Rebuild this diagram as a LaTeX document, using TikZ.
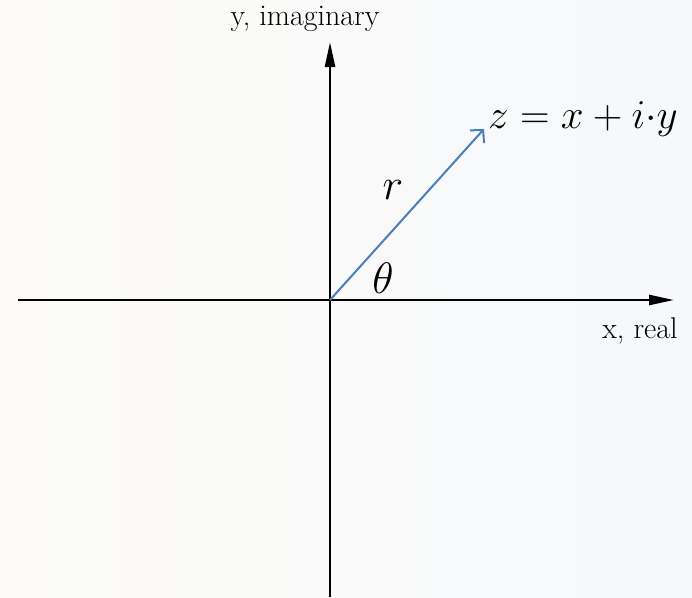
\RequirePackage{fix-cm}
\documentclass[tikz,border=0pt]{standalone}
\usetikzlibrary{arrows.meta}
\definecolor{vecblue}{RGB}{74,126,187}
\definecolor{bgwarm}{RGB}{252,251,247}
\definecolor{bgcool}{RGB}{246,248,251}
\tikzset{
    axis/.style = {line width = 2.6pt, -{Triangle[length = 25pt, width = 10pt]}},
    vec/.style = {vecblue, line width = 2pt, -{Straight Barb[length = 9pt, width = 19pt, line width = 2pt]}},
    axislabel/.style = {font = \fontsize{30}{33}\selectfont, inner sep = 0pt},
    biglabel/.style = {font = \fontsize{44}{48}\selectfont, inner sep = 0pt}
}
\begin{document}
\begin{tikzpicture}[x = 1pt, y = -1pt]
                \shade[left color = bgwarm, right color = bgcool] (0, 0) rectangle (692, 597);
                \useasboundingbox (0, 0) rectangle (692, 597);
                \coordinate (O) at (330, 300);
                \coordinate (xleft) at (18, 300);
                \coordinate (xright) at (674, 300);
                \coordinate (ybottom) at (330, 597);
                \coordinate (ytop) at (330, 42);
                \coordinate (zpt) at (484, 129);
                \draw[axis] (xleft) -- (xright);
                \draw[axis] (ybottom) -- (ytop);
                \draw[vec] (O) -- (zpt);
                \node[axislabel] (ylab) at (305, 19) {y, imaginary};
                \node[axislabel] (xlab) at (640, 331) {x, real};
                \node[biglabel, font = \fontsize{41}{45}\selectfont, anchor = base west] (zlab) at (488, 128) {$z = x + i{\cdot}y$};
                \node[biglabel] (rlab) at (393, 190) {$r$};
                \node[biglabel] (thetalab) at (383, 278) {$\theta$};
            \end{tikzpicture}
\end{document}
